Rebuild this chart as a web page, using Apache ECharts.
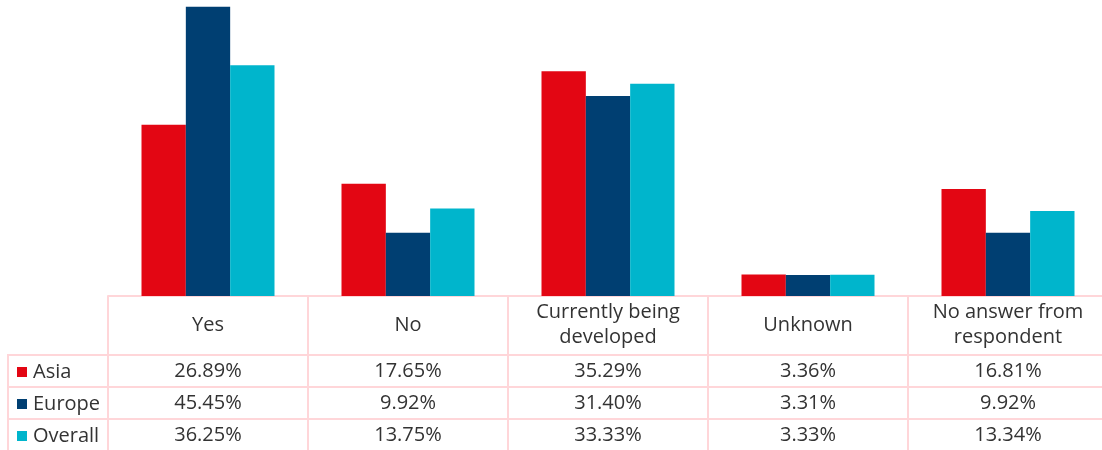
<!DOCTYPE html>
<html>
<head>
<meta charset="utf-8">
<script src="https://cdn.jsdelivr.net/npm/echarts@6/dist/echarts.min.js"></script>
<style>
html,body{margin:0;padding:0;background:#fff;}
#c{width:1102px;height:450px;}
</style>
</head>
<body>
<div id="c"></div>
<script>
const categories = ['Yes', 'No', 'Currently being\ndeveloped', 'Unknown', 'No answer from\nrespondent'];
const seriesNames = ['Asia', 'Europe', 'Overall'];
const asia = [26.89, 17.65, 35.29, 3.36, 16.81];
const europe = [45.45, 9.92, 31.40, 3.31, 9.92];
const overall = [36.25, 13.75, 33.33, 3.33, 13.34];
const colors = ['#E30613', '#003F72', '#00B5CC'];

const values = [asia, europe, overall];
const lineColor = '#FFD6D9';
const textColor = '#333333';
const font = 'Open Sans';
const fontSize = 20;

const chart = echarts.init(document.getElementById('c'));

const gridLeft = 108, gridTop = 0, gridH = 296;
const rowOffsets = [59, 91, 123];

const xAxes = [{
  type: 'category',
  data: categories,
  gridIndex: 0,
  position: 'bottom',
  axisLine: {show: true, lineStyle: {color: lineColor, width: 2}},
  axisTick: {show: true, interval: 0, length: 160, lineStyle: {color: lineColor, width: 2}},
  axisLabel: {interval: 0, margin: 29, verticalAlign: 'middle', color: textColor, fontFamily: font, fontSize: fontSize, lineHeight: 25, align: 'center'}
}];
values.forEach((arr, i) => {
  xAxes.push({
    type: 'category',
    data: arr.map(v => v.toFixed(2) + '%'),
    gridIndex: 0,
    position: 'bottom',
    offset: rowOffsets[i],
    axisLine: {show: true, lineStyle: {color: lineColor, width: 2}},
    axisTick: {show: false},
    axisLabel: {interval: 0, margin: 16, verticalAlign: 'middle', color: textColor, fontFamily: font, fontSize: fontSize}
  });
});

const option = {
  animation: false,
  backgroundColor: '#fff',
  color: colors,
  grid: {left: gridLeft, top: gridTop, width: 1000, height: gridH, containLabel: false, outerBoundsMode: 'none'},
  legend: {
    orient: 'vertical',
    left: 17, top: 361,
    padding: 0,
    itemWidth: 10, itemHeight: 10,
    itemGap: 10,
    icon: 'rect',
    textStyle: {color: textColor, fontFamily: font, fontSize: fontSize, lineHeight: 22, padding: [0,0,0,1]},
    data: seriesNames
  },
  xAxis: xAxes,
  yAxis: {type: 'value', min: 0, max: 46.5, show: false, splitLine: {show: false}},
  series: values.map((arr, i) => ({
    name: seriesNames[i],
    type: 'bar',
    data: arr,
    xAxisIndex: 0,
    barGap: '0%',
    barCategoryGap: '33.5%',
    itemStyle: {color: colors[i]}
  })),
  graphic: [
    {type: 'line', shape: {x1: 8, y1: 355, x2: 108, y2: 355}, style: {stroke: lineColor, lineWidth: 2}},
    {type: 'line', shape: {x1: 8, y1: 387, x2: 108, y2: 387}, style: {stroke: lineColor, lineWidth: 2}},
    {type: 'line', shape: {x1: 8, y1: 419, x2: 108, y2: 419}, style: {stroke: lineColor, lineWidth: 2}},
    {type: 'line', shape: {x1: 8, y1: 354, x2: 8, y2: 452}, style: {stroke: lineColor, lineWidth: 2}}
  ]
};
chart.setOption(option);
</script>
</body>
</html>
